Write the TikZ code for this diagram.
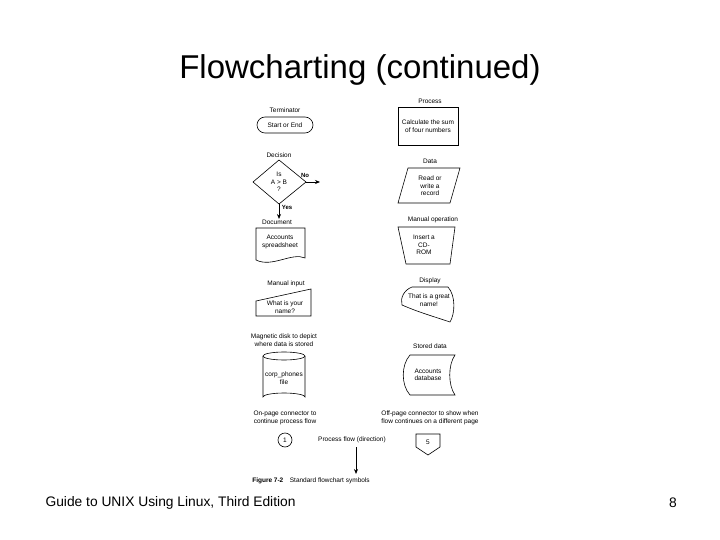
\documentclass[tikz,border=0pt]{standalone}
\usepackage{fontspec}
\setmainfont{Liberation Sans}
\usetikzlibrary{arrows.meta}
\begin{document}
\begin{tikzpicture}[x=1pt,y=-1pt,
  sym/.style={draw,line width=0.6pt},
  lbl/.style={font=\fontsize{6.5}{7.5}\selectfont,align=center,inner sep=0pt},
  arr/.style={-{Stealth[length=5pt,width=4pt]},line width=0.7pt}]
\useasboundingbox (0,0) rectangle (720,540);
\node[font=\fontsize{33}{38}\selectfont] (title) at (360,70) {Flowcharting (continued)};
\node[font=\fontsize{13.8}{16}\selectfont,anchor=west] (foot) at (42,503) {Guide to UNIX Using Linux, Third Edition};
\node[font=\fontsize{13.8}{16}\selectfont] (pg) at (673,503) {8};
% left column
\node[lbl] (lt) at (285,110) {Terminator};
\draw[sym,rounded corners=8pt] (257,117) rectangle (313,133);
\node[lbl] (t) at (285,125) {Start or End};
\node[lbl] (ld) at (279,155) {Decision};
\draw[sym] (279,160) -- (306,182) -- (279,204) -- (253,182) -- cycle;
\node[lbl] (d) at (279,182) {Is\\A > B\\?};
\coordinate (dr) at (306,182); \coordinate (dno) at (320,182);
\coordinate (db) at (279,204); \coordinate (dyes) at (279,219);
\draw[arr] (dr) -- (dno);
\draw[arr] (db) -- (dyes);
\node[lbl,font=\fontsize{6}{7}\selectfont\bfseries] (no) at (305,175) {No};
\node[lbl,font=\fontsize{6}{7}\selectfont\bfseries] (yes) at (287,207) {Yes};
\node[lbl] (ldoc) at (277,222) {Document};
\draw[sym] (256,228) -- (305,228) -- (305,258) .. controls (292,252) and (272,268) .. (256,260) -- cycle;
\node[lbl] (doc) at (280,242) {Accounts\\spreadsheet};
\node[lbl] (lmi) at (286,284) {Manual input};
\draw[sym] (256,301) -- (311,289) -- (311,316) -- (256,316) -- cycle;
\node[lbl] (mi) at (285,307) {What is your\\name?};
\node[lbl] (lmd) at (284,340) {Magnetic disk to depict\\where data is stored};
\draw[sym] (263,356) -- (263,397) arc[start angle=180,end angle=360,x radius=21,y radius=4] -- (305,356);
\draw[sym] (284,356) ellipse[x radius=21,y radius=4];
\node[lbl] (md) at (284,378) {corp\_phones\\file};
\node[lbl] (lon) at (285,418) {On-page connector to\\continue process flow};
\node[sym,circle,minimum size=14pt,inner sep=0pt,font=\fontsize{6.5}{7.5}\selectfont] (on) at (285,440) {1};
\node[lbl] (lpf) at (352,440) {Process flow (direction)};
\coordinate (pf1) at (356,447); \coordinate (pf2) at (356,474);
\draw[arr] (pf1) -- (pf2);
\node[lbl] (cap) at (311,481) {\textbf{Figure 7-2}\quad Standard flowchart symbols};
% right column
\node[lbl] (lp) at (430,101) {Process};
\draw[sym] (398,107) rectangle (458,145);
\node[lbl] (p) at (428,126) {Calculate the sum\\of four numbers};
\node[lbl] (lda) at (430,161) {Data};
\draw[sym] (408,168) -- (460,168) -- (450,203) -- (398,203) -- cycle;
\node[lbl] (da) at (430,186) {Read or\\write a\\record};
\node[lbl] (lmo) at (433,220) {Manual operation};
\draw[sym] (398,227) -- (455,227) -- (450,264) -- (406,264) -- cycle;
\node[lbl] (mo) at (424,245) {Insert a\\CD-\\ROM};
\node[lbl] (ldi) at (430,281) {Display};
\draw[sym] (412,287) -- (448,287) .. controls (456,296) and (455,314) .. (450,322) .. controls (432,316) and (418,312) .. (402,305) .. controls (400,298) and (404,290) .. (412,287) -- cycle;
\node[lbl] (di) at (429,300) {That is a great\\name!};
\node[lbl] (lsd) at (430,346) {Stored data};
\draw[sym] (410,355) -- (455,355) .. controls (448,365) and (448,385) .. (455,395) -- (410,395) .. controls (401,385) and (401,365) .. (410,355) -- cycle;
\node[lbl] (sd) at (428,375) {Accounts\\database};
\node[lbl] (loff) at (430,418) {Off-page connector to show when\\flow continues on a different page};
\draw[sym] (416,434) -- (440,434) -- (440,447) -- (428,455) -- (416,447) -- cycle;
\node[lbl] (off) at (428,442) {5};
\end{tikzpicture}
\end{document}
